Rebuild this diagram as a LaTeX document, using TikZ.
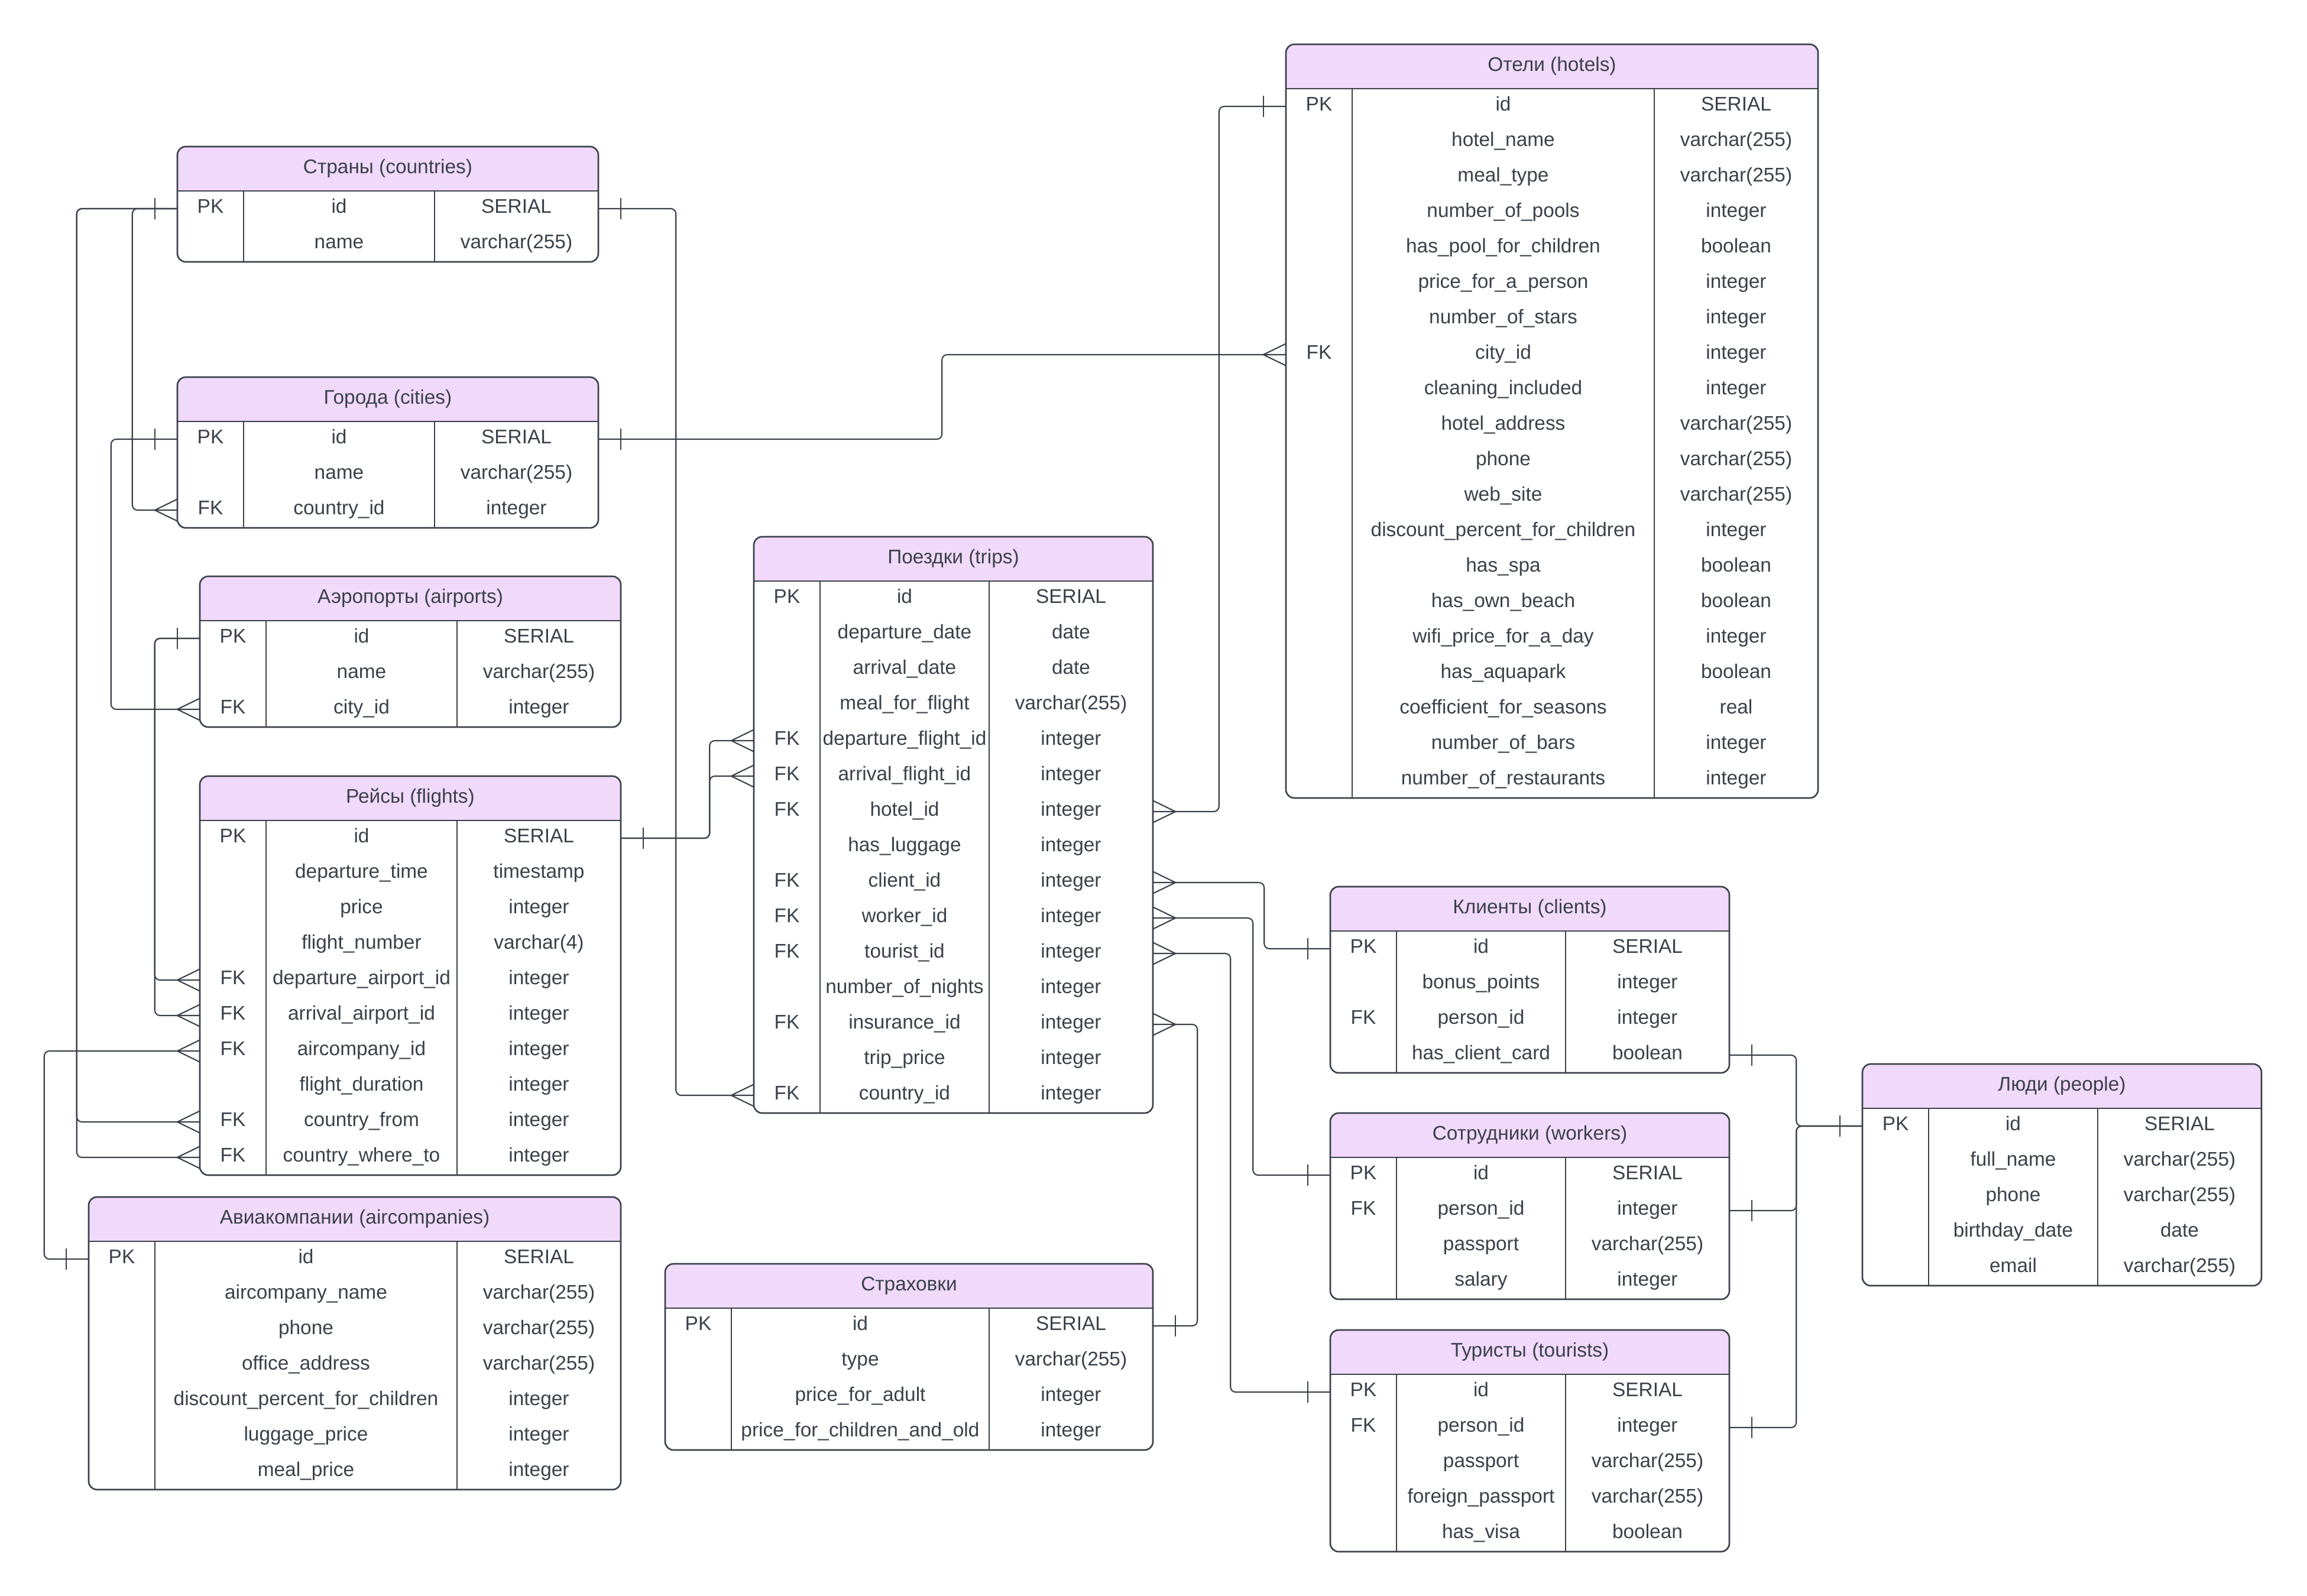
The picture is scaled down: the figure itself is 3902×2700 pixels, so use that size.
\documentclass[tikz,border=0pt]{standalone}
\usepackage{fontspec}
\setmainfont{Liberation Sans}
\usepackage{tikz}

\definecolor{ink}{HTML}{3A414A}
\definecolor{lilac}{HTML}{F1D9FB}

% #1 name, #2 left, #3 top, #4 type column, #5 right, #6 rows, #7 title, #8 fields
\newcommand{\ertable}[8]{%
    \pgfmathsetmacro{\tbot}{#3+75+60*#6}
    \pgfmathsetmacro{\twid}{(#5-#2)/100}
    \fill[headfill, rounded corners=4pt] (#2,#3) rectangle (#5,#3+75);
    \fill[headfill] (#2,#3+40) rectangle (#5,#3+75);
    \draw[colline] (#2+112,#3+75) -- (#2+112,\tbot) (#4,#3+75) -- (#4,\tbot);
    \draw[boxline] (#2,#3+75) -- (#5,#3+75);
    \draw[boxline, rounded corners=4pt] (#2,#3) rectangle (#5,\tbot);
    \node [headtext] (#1-h) at ({(#2+#5)/2},#3+37.5) {#7};
    \foreach \k/\n/\t [count=\i] in {#8} {
        \node [rowbox, minimum width=\twid cm] (#1-\i) at ({(#2+#5)/2},{#3+45+60*\i}) {};
        \node [celltext] (#1-\i-k) at (#2+56,{#3+45+60*\i}) {\k};
        \node [celltext] (#1-\i-n) at ({(#2+112+#4)/2},{#3+45+60*\i}) {\n};
        \node [celltext] (#1-\i-t) at ({(#4+#5)/2},{#3+45+60*\i}) {\t};
    }
}

\begin{document}
\begin{tikzpicture}[x=0.01cm, y=-0.01cm,
    boxline/.style={draw=ink, line width=0.75pt},
    colline/.style={draw=ink, line width=0.5pt},
    headfill/.style={fill=lilac},
    headtext/.style={text=ink, font=\fontsize{9.5}{11}\selectfont, inner sep=0pt, text height=0.7em, text depth=0.25em},
    celltext/.style={headtext},
    rowbox/.style={inner sep=0pt, outer sep=0pt, minimum height=0.6cm},
    link/.style={draw=ink, line width=0.6pt, rounded corners=2.5pt},
    crowsfoot/.pic={\path[link] (-38,0) -- (0,-18.5) (-38,0) -- (0,18.5);},
    onebar/.pic={\path[link] (-38,-18) -- (-38,18);}]
    \path[fill=white] (0,0) rectangle (3902,2700);
    \useasboundingbox (0,0) rectangle (3902,2700);

    % Place tables
    \ertable{countries}{300}{248}{735}{1012}{2}{Страны (countries)}{PK/id/SERIAL, {}/name/varchar(255)}
    \ertable{cities}{300}{638}{735}{1012}{3}{Города (cities)}{PK/id/SERIAL, {}/name/varchar(255), FK/country\_id/integer}
    \ertable{airports}{338}{975}{773}{1050}{3}{Аэропорты (airports)}{PK/id/SERIAL, {}/name/varchar(255), FK/city\_id/integer}
    \ertable{flights}{338}{1313}{773}{1050}{10}{Рейсы (flights)}{PK/id/SERIAL, {}/departure\_time/timestamp, {}/price/integer, {}/flight\_number/varchar(4), FK/departure\_airport\_id/integer, FK/arrival\_airport\_id/integer, FK/aircompany\_id/integer, {}/flight\_duration/integer, FK/country\_from/integer, FK/country\_where\_to/integer}
    \ertable{aircompanies}{150}{2025}{773}{1050}{7}{Авиакомпании (aircompanies)}{PK/id/SERIAL, {}/aircompany\_name/varchar(255), {}/phone/varchar(255), {}/office\_address/varchar(255), {}/discount\_percent\_for\_children/integer, {}/luggage\_price/integer, {}/meal\_price/integer}
    \ertable{trips}{1275}{908}{1673}{1950}{15}{Поездки (trips)}{PK/id/SERIAL, {}/departure\_date/date, {}/arrival\_date/date, {}/meal\_for\_flight/varchar(255), FK/departure\_flight\_id/integer, FK/arrival\_flight\_id/integer, FK/hotel\_id/integer, {}/has\_luggage/integer, FK/client\_id/integer, FK/worker\_id/integer, FK/tourist\_id/integer, {}/number\_of\_nights/integer, FK/insurance\_id/integer, {}/trip\_price/integer, FK/country\_id/integer}
    \ertable{insurance}{1125}{2138}{1673}{1950}{4}{Страховки}{PK/id/SERIAL, {}/type/varchar(255), {}/price\_for\_adult/integer, {}/price\_for\_children\_and\_old/integer}
    \ertable{hotels}{2175}{75}{2798}{3075}{20}{Отели (hotels)}{PK/id/SERIAL, {}/hotel\_name/varchar(255), {}/meal\_type/varchar(255), {}/number\_of\_pools/integer, {}/has\_pool\_for\_children/boolean, {}/price\_for\_a\_person/integer, {}/number\_of\_stars/integer, FK/city\_id/integer, {}/cleaning\_included/integer, {}/hotel\_address/varchar(255), {}/phone/varchar(255), {}/web\_site/varchar(255), {}/discount\_percent\_for\_children/integer, {}/has\_spa/boolean, {}/has\_own\_beach/boolean, {}/wifi\_price\_for\_a\_day/integer, {}/has\_aquapark/boolean, {}/coefficient\_for\_seasons/real, {}/number\_of\_bars/integer, {}/number\_of\_restaurants/integer}
    \ertable{clients}{2250}{1500}{2648}{2925}{4}{Клиенты (clients)}{PK/id/SERIAL, {}/bonus\_points/integer, FK/person\_id/integer, {}/has\_client\_card/boolean}
    \ertable{workers}{2250}{1883}{2648}{2925}{4}{Сотрудники (workers)}{PK/id/SERIAL, FK/person\_id/integer, {}/passport/varchar(255), {}/salary/integer}
    \ertable{tourists}{2250}{2250}{2648}{2925}{5}{Туристы (tourists)}{PK/id/SERIAL, FK/person\_id/integer, {}/passport/varchar(255), {}/foreign\_passport/varchar(255), {}/has\_visa/boolean}
    \ertable{people}{3150}{1800}{3548}{3825}{5}{Люди (people)}{PK/id/SERIAL, {}/full\_name/varchar(255), {}/phone/varchar(255), {}/birthday\_date/date, {}/email/varchar(255)}

    % Draw relations
    \path[link] (countries-1.west) -- ++(-76,0) |- (cities-3.west);
    \path[link] (countries-1.west) -- ++(-170,0) |- (flights-9.west);
    \path[link] (countries-1.west) -- ++(-170,0) |- (flights-10.west);
    \path[link] (countries-1.east) -- ++(131,0) |- (trips-15.west);
    \path[link] (cities-1.west) -- ++(-112,0) |- (airports-3.west);
    \path[link] (cities-1.east) -- ++(581,0) |- (hotels-8.west);
    \path[link] (airports-1.west) -- ++(-76,0) |- (flights-5.west);
    \path[link] (airports-1.west) -- ++(-76,0) |- (flights-6.west);
    \path[link] (aircompanies-1.west) -- ++(-75,0) |- (flights-7.west);
    \path[link] (flights-1.east) -- ++(150,0) |- (trips-5.west);
    \path[link] (flights-1.east) -- ++(150,0) |- (trips-6.west);
    \path[link] (hotels-1.west) -- ++(-113,0) |- (trips-7.east);
    \path[link] (trips-9.east) -- ++(188,0) |- (clients-1.west);
    \path[link] (trips-10.east) -- ++(169,0) |- (workers-1.west);
    \path[link] (trips-11.east) -- ++(131,0) |- (tourists-1.west);
    \path[link] (trips-13.east) -- ++(75,0) |- (insurance-1.east);
    \path[link] (clients-4.east) -- ++(113,0) |- (people-1.west);
    \path[link] (workers-2.east) -- ++(113,0) |- (people-1.west);
    \path[link] (tourists-2.east) -- ++(113,0) |- (people-1.west);

    % Ends: many and one
    \foreach \p in {cities-3, airports-3, hotels-8, flights-5, flights-6, flights-7, flights-9, flights-10, trips-5, trips-6, trips-15}
        \pic at (\p.west) {crowsfoot};
    \foreach \p in {trips-7, trips-9, trips-10, trips-11, trips-13}
        \pic[rotate=180] at (\p.east) {crowsfoot};
    \foreach \p in {countries-1, cities-1, airports-1, aircompanies-1, hotels-1, clients-1, workers-1, tourists-1, people-1}
        \pic at (\p.west) {onebar};
    \foreach \p in {countries-1, cities-1, flights-1, insurance-1, clients-4, workers-2, tourists-2}
        \pic[rotate=180] at (\p.east) {onebar};
\end{tikzpicture}
\end{document}
